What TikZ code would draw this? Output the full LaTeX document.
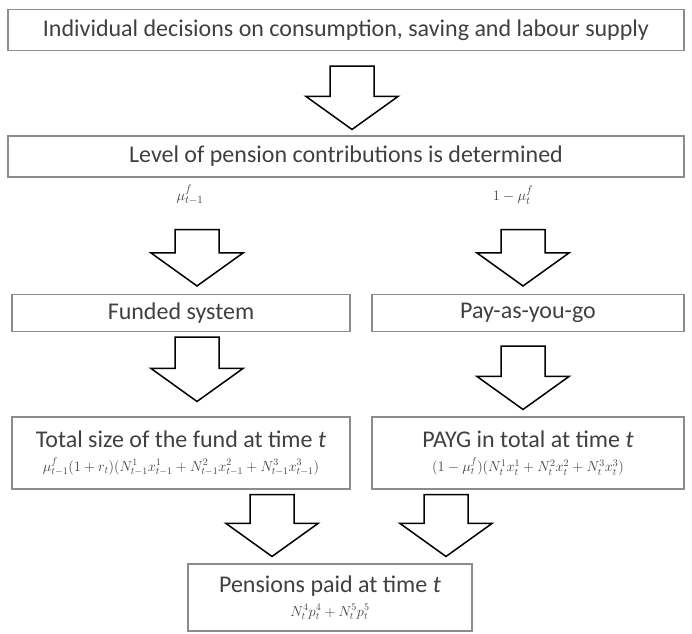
\documentclass[tikz,border=0pt]{standalone}
\usepackage{fontspec}
\setmainfont{Carlito}
\usetikzlibrary{calc}

\definecolor{txtgray}{HTML}{404040}
\definecolor{boxgray}{HTML}{8C8C8C}

% block arrow between two boxes: x, from, to, gap below from, gap above to
\newcommand{\blockarrow}[5]{%
  \draw[bigarrow] let \p1=(#2.south), \p2=(#3.north) in
    (#1pt-22pt,\y1-#4pt) -- (#1pt+22pt,\y1-#4pt)
    -- (#1pt+22pt,\y2+#5pt+33pt) -- (#1pt+46pt,\y2+#5pt+33pt)
    -- (#1pt,\y2+#5pt)
    -- (#1pt-46pt,\y2+#5pt+33pt) -- (#1pt-22pt,\y2+#5pt+33pt) -- cycle;}

\begin{document}
\begin{tikzpicture}[x=1pt,y=-1pt,line join=miter,
  every node/.style={text=txtgray},
  stepbox/.style={draw=boxgray,line width=1.1pt,inner sep=0pt,align=center,
    font=\fontsize{24}{27}\selectfont},
  bigarrow/.style={draw=black,line width=1.5pt,fill=white},
  mathsz/.style={font=\fontsize{15}{17}\selectfont}]
  \useasboundingbox (0,0) rectangle (692,633);
  % ---- decisions and contributions ----------------------------------------
  \node[stepbox,minimum width=676pt,minimum height=41pt] (decide) at (346,30)
    {Individual decisions on consumption, saving and labour supply};
  \node[stepbox,minimum width=676pt,minimum height=41pt] (level) at (346,156.5)
    {Level of pension contributions is determined};
  \node[mathsz] (mufund) at (190,195) {$\mu^{f}_{t-1}$};
  \node[mathsz] (mupayg) at (513,195) {$1-\mu^{f}_{t}$};
  % ---- the two systems ----------------------------------------------------
  \node[stepbox,minimum width=338pt,minimum height=37pt] (funded) at (181,313)
    {Funded system};
  \node[stepbox,minimum width=312pt,minimum height=37pt] (payg) at (528,313)
    {Pay-as-you-go};
  \node[stepbox,minimum width=338pt,minimum height=72pt] (fundsize) at (181,453)
    {Total size of the fund at time \textit{t}\\[-3pt]
     {\fontsize{14.5}{16}\selectfont$\mu^{f}_{t-1}(1+r_t)\bigl(N^1_{t-1}x^1_{t-1}+N^2_{t-1}x^2_{t-1}+N^3_{t-1}x^3_{t-1}\bigr)$}};
  \node[stepbox,minimum width=312pt,minimum height=72pt] (payglevel) at (528,453)
    {PAYG in total at time \textit{t}\\[-3pt]
     {\fontsize{14.5}{16}\selectfont$(1-\mu^{f}_{t})\bigl(N^1_t x^1_t+N^2_t x^2_t+N^3_t x^3_t\bigr)$}};
  % ---- pensions -----------------------------------------------------------
  \node[stepbox,minimum width=284pt,minimum height=67pt] (pensions) at (330,597.5)
    {Pensions paid at time \textit{t}\\[-3pt]
     {\fontsize{14.5}{16}\selectfont$N^4_t p^4_t+N^5_t p^5_t$}};
  % ---- block arrows -------------------------------------------------------
  \blockarrow{352}{decide}{level}{15}{6}
  \blockarrow{197}{level}{funded}{52}{8}
  \blockarrow{523}{level}{payg}{52}{8}
  \blockarrow{197}{funded}{fundsize}{5}{15}
  \blockarrow{523}{funded}{payglevel}{14}{7}
  \blockarrow{272}{fundsize}{pensions}{5}{7}
  \blockarrow{446}{payglevel}{pensions}{5}{7}
\end{tikzpicture}
\end{document}
